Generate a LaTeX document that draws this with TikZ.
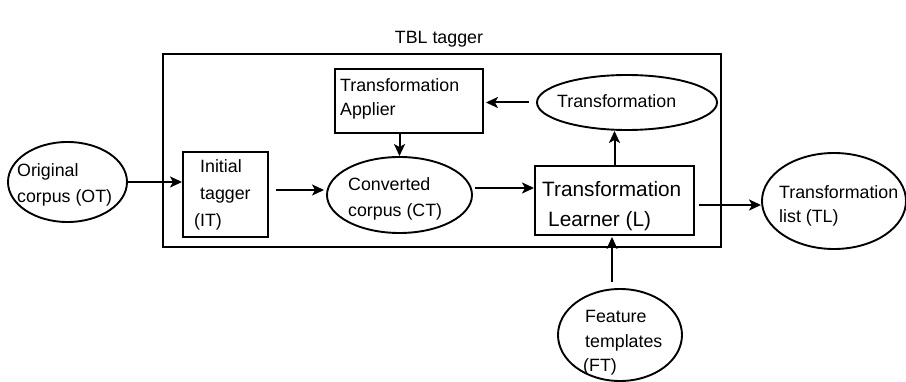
\documentclass[tikz,border=0pt]{standalone}
\usepackage{fontspec}
\setmainfont{Liberation Sans}
\usetikzlibrary{shapes.geometric,arrows.meta,calc}
\tikzset{
  shp/.style={draw=black, line width=1.9pt, inner sep=0pt},
  boxn/.style={shp, rectangle},
  ell/.style={shp, ellipse},
  txt/.style={anchor=base west, inner sep=0pt, font=\fontsize{17.8}{21}\selectfont},
  bigtxt/.style={anchor=base west, inner sep=0pt, font=\fontsize{20.8}{24}\selectfont},
  arr/.style={line width=2pt, -{Stealth[length=12pt,width=11pt,inset=3pt]}}
}
\begin{document}
\begin{tikzpicture}[x=1pt,y=-1pt]
\useasboundingbox (0,0) rectangle (906,382);
\fill[white] (0,0) rectangle (906,382);
\clip (0,0) rectangle (906,382);
% title
\node[txt, anchor=base] (title) at (439,44) {TBL tagger};
% big frame
\node[boxn, minimum width=558pt, minimum height=193pt] (frame) at (442,150.5) {};
% shapes
\node[ell, minimum width=119pt, minimum height=80pt] (OT) at (67.5,182) {};
\node[boxn, minimum width=85pt, minimum height=85pt] (IT) at (225.5,194.5) {};
\node[ell, minimum width=145pt, minimum height=76pt] (CT) at (399.5,195) {};
\node[boxn, minimum width=148pt, minimum height=64pt] (TA) at (409,101) {};
\node[ell, minimum width=180pt, minimum height=55pt] (TR) at (627,102.5) {};
\node[boxn, minimum width=159pt, minimum height=69pt] (TL) at (614.5,200.5) {};
\node[ell, minimum width=144pt, minimum height=96pt] (TLL) at (834,201) {};
\node[ell, minimum width=124pt, minimum height=92pt] (FT) at (620,335) {};
% texts
\node[txt] (t1) at (17,177) {Original};
\node[txt] (t2) at (17,203) {corpus (OT)};
\node[txt] (t3) at (200,173) {Initial};
\node[txt] (t4) at (200,200) {tagger};
\node[txt] (t5) at (194,227) {(IT)};
\node[txt] (t6) at (340,92) {Transformation};
\node[txt] (t7) at (340,116) {Applier};
\node[txt] (t8) at (557,108) {Transformation};
\node[txt] (t9) at (348,191) {Converted};
\node[txt] (t10) at (348,217) {corpus (CT)};
\node[bigtxt] (t11) at (542,197) {Transformation};
\node[bigtxt] (t12) at (548,227) {Learner (L)};
\node[txt] (t13) at (779,199) {Transformation};
\node[txt] (t14) at (779,223) {list (TL)};
\node[txt] (t15) at (585,323) {Feature};
\node[txt] (t16) at (585,348) {templates};
\node[txt] (t17) at (583,372) {(FT)};
% connectors
\draw[arr] (OT.east) -- (OT.east -| IT.west);
\coordinate (c1) at ([xshift=7pt,yshift=4.5pt]IT.east);
\draw[arr] (c1) -- ([xshift=-2pt]c1 -| CT.west);
\coordinate (c2) at ([xshift=2pt,yshift=7pt]CT.east);
\draw[arr] (c2) -- (c2 -| TL.west);
\draw[arr] (TA.south -| CT.north) -- (CT.north);
\coordinate (c3) at ([xshift=-7pt]TR.west);
\draw[arr] (c3) -- ([xshift=2pt]c3 -| TA.east);
\draw[arr] (TL.north) -- (TL.north |- TR.south);
\coordinate (c4) at ([xshift=4pt,yshift=-4.5pt]TL.east);
\draw[arr] (c4) -- (c4 -| TLL.west);
\coordinate (c5) at ([xshift=-8pt,yshift=6pt]FT.north);
\draw[arr] (c5) -- ([yshift=-1pt]c5 |- TL.south);
\end{tikzpicture}
\end{document}
